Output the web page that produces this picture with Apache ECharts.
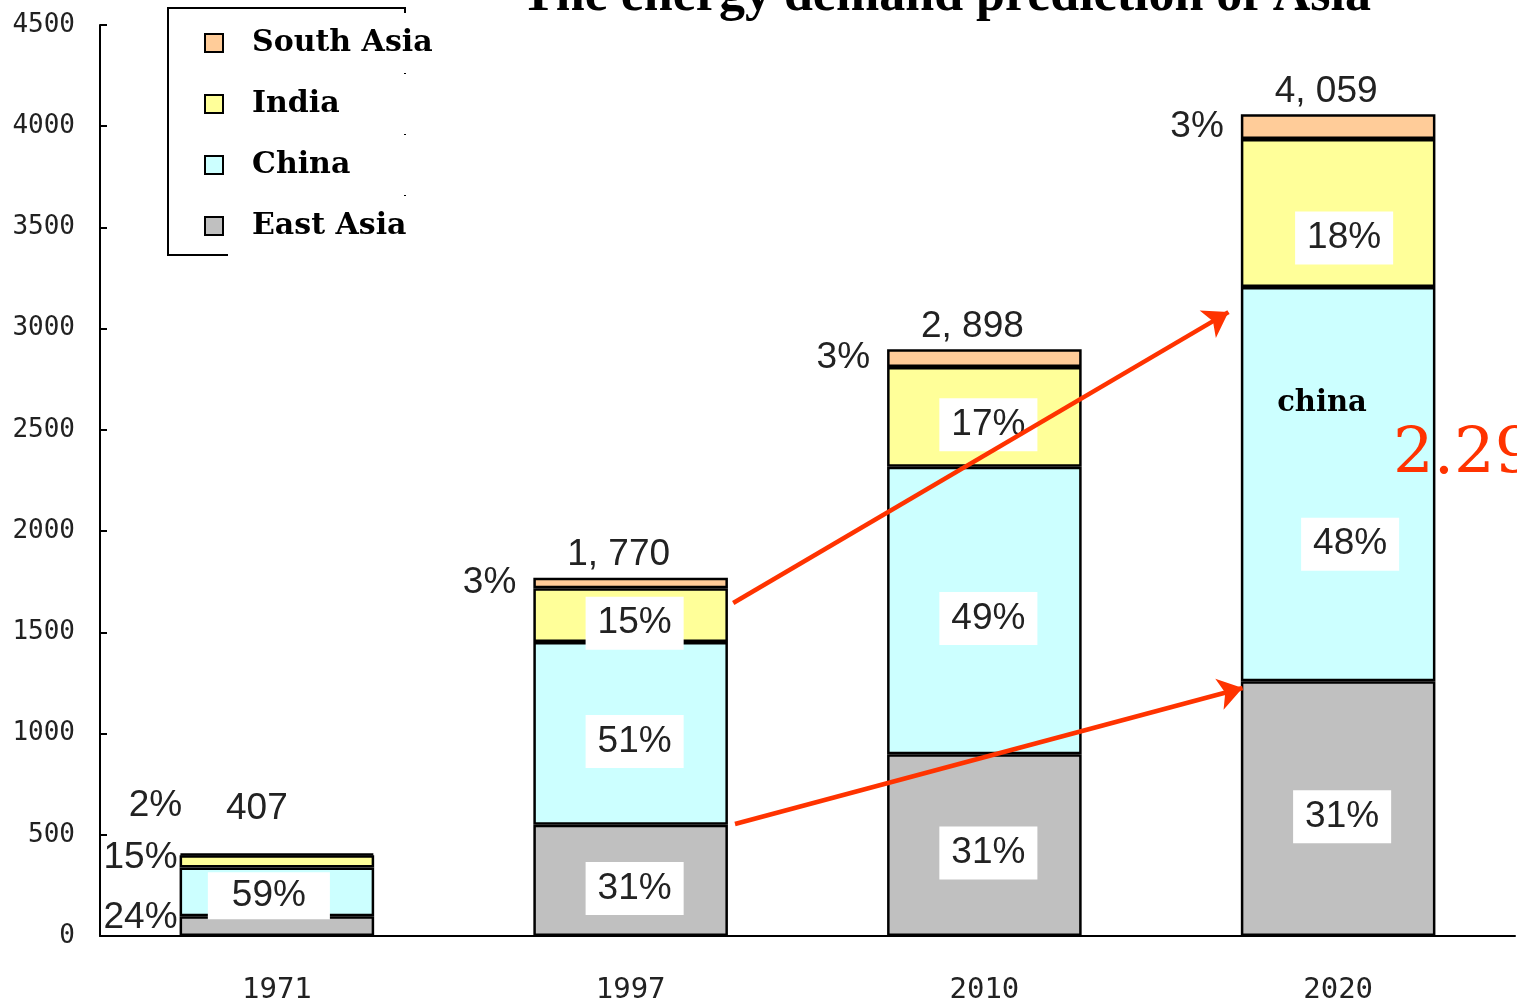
<!DOCTYPE html>
<html>
<head>
<meta charset="utf-8">
<script src="https://cdn.jsdelivr.net/npm/echarts@6/dist/echarts.min.js"></script>
<style>
  html, body { margin: 0; padding: 0; background: #fff; }
  #chart { width: 1517px; height: 1004px; }
</style>
</head>
<body>
<div id="chart"></div>
<script>
// data
var years = ['1971', '1997', '2010', '2020'];
var eastAsia = [98, 549, 898, 1258];
var china = [240, 903, 1420, 1948];
var india = [61, 266, 493, 731];
var southAsia = [8, 52, 87, 122];
var yTicks = { min: 0, max: 4500, step: 500 };
// arrows, in data space (x: 0..4 across the categories)
var arrowFrom = [[1.79, 1645], [1.795, 553]];
var arrowTo = [[3.19, 3082], [3.23, 1225]];

var totals = years.map(function (y, i) {
  return eastAsia[i] + china[i] + india[i] + southAsia[i];
});

function pct(i, v) {
  return Math.round(v / totals[i] * 100) + '%';
}
function withComma(n) {
  return String(n).replace(/\B(?=(\d{3})+(?!\d))/g, ', ');
}

var pctFont = 'Liberation Sans';
var inner = {
  show: true,
  position: 'inside',
  backgroundColor: '#fff',
  padding: [10, 12, 6, 12],
  color: '#222',
  fontFamily: pctFont,
  fontSize: 37,
  offset: [4, 8]
};
var outer = {
  show: true,
  position: 'left',
  distance: 17,
  backgroundColor: 'transparent',
  color: '#222',
  fontFamily: pctFont,
  fontSize: 37
};

function build(values, base, special) {
  return values.map(function (v, i) {
    var lab = Object.assign({}, base, { formatter: pct(i, v) }, special[i] || {});
    return { value: v, label: lab };
  });
}

var barStyle = function (c) {
  return { color: c, borderColor: '#000', borderWidth: 2.5 };
};

var chart = echarts.init(document.getElementById('chart'));
var option = {
  animation: false,
  backgroundColor: '#fff',
  grid: { left: 100, width: 1415, top: 25, bottom: 68, outerBoundsMode: 'none', containLabel: false },
  legend: {
    data: ['South Asia', 'India', 'China', 'East Asia'],
    orient: 'vertical',
    left: 204, top: 13,
    padding: 0,
    z: 10,
    itemWidth: 18, itemHeight: 18, itemGap: 1,
    icon: 'rect',
    itemStyle: { borderColor: '#000', borderWidth: 2 },
    textStyle: {
      fontFamily: 'DejaVu Serif', fontWeight: 'bold', fontSize: 30, color: '#000',
      backgroundColor: '#fff', padding: [13, 8, 13, 24], lineHeight: 34, width: 172
    }
  },
  xAxis: [{
    type: 'category',
    data: years,
    axisLine: { lineStyle: { color: '#000', width: 2 } },
    axisTick: { show: false },
    axisLabel: { fontFamily: 'DejaVu Sans Mono', fontSize: 29, color: '#222', margin: 40 }
  }, {
    type: 'value', min: 0, max: 4, show: false
  }],
  yAxis: {
    type: 'value',
    min: yTicks.min, max: yTicks.max, interval: yTicks.step,
    axisLine: { show: true, lineStyle: { color: '#000', width: 2 } },
    axisTick: { show: true, inside: true, length: 7, lineStyle: { color: '#000', width: 2 } },
    splitLine: { show: false },
    axisLabel: {
      fontFamily: 'DejaVu Sans Mono', fontSize: 26, color: '#222', margin: 25,
      formatter: function (v) { return String(v); }
    }
  },
  graphic: [
    { type: 'rect', z: 1, shape: { x: 168, y: 8, width: 237, height: 247 },
      style: { fill: 'none', stroke: '#000', lineWidth: 2 } },
    { type: 'text', z: 20, x: 946, y: 23,
      style: { text: 'The energy demand prediction of Asia', font: 'bold 52px "Liberation Serif"',
               fill: '#000', textAlign: 'center', textVerticalAlign: 'bottom' } },
    { type: 'text', z: 20, x: 1322, y: 403,
      style: { text: 'china', font: 'bold 29px "DejaVu Serif"', fill: '#000',
               textAlign: 'center', textVerticalAlign: 'middle' } },
    { type: 'text', z: 20, x: 1393, y: 456,
      style: { text: '2.29', font: '64px "DejaVu Serif"', fill: '#ff3300',
               textAlign: 'left', textVerticalAlign: 'middle' } }
  ],
  series: [
    {
      name: 'East Asia', type: 'bar', stack: 'all', barWidth: '55%',
      itemStyle: barStyle('#c0c0c0'),
      data: build(eastAsia, inner, { 0: Object.assign({}, outer, { distance: -10, offset: [0, -8] }) })
    },
    {
      name: 'China', type: 'bar', stack: 'all',
      itemStyle: barStyle('#ccffff'),
      data: build(china, inner, { 0: { padding: [6, 24, 4, 24], offset: [-8, 4] }, 3: { offset: [12, 60] } })
    },
    {
      name: 'India', type: 'bar', stack: 'all',
      itemStyle: barStyle('#ffff99'),
      data: build(india, inner, { 0: Object.assign({}, outer, { distance: -10, offset: [0, -4] }), 3: { offset: [6, 25] } })
    },
    {
      name: 'South Asia', type: 'bar', stack: 'all',
      itemStyle: barStyle('#ffcc99'),
      data: build(southAsia, outer, { 0: { distance: -3, offset: [0, -49] } })
    },
    {
      name: 'total', type: 'scatter', symbolSize: 0, silent: true, z: 5,
      itemStyle: { color: '#000', opacity: 1 },
      data: totals.map(function (t, i) {
        return { value: t, label: { offset: i === 0 ? [-20, -22] : [-12, 0] } };
      }),
      label: {
        show: true, position: 'top', distance: 4, opacity: 1,
        fontFamily: pctFont, fontSize: 37, color: '#222',
        formatter: function (p) { return withComma(p.value); }
      }
    },
    {
      name: 'arrows', type: 'lines', coordinateSystem: 'cartesian2d',
      xAxisIndex: 1, yAxisIndex: 0, z: 8, silent: true,
      symbol: ['none', 'arrow'], symbolSize: 24,
      lineStyle: { color: '#ff3300', width: 4.5, opacity: 1, curveness: 0 },
      data: arrowFrom.map(function (p, i) { return { coords: [p, arrowTo[i]] }; })
    }
  ]
};
chart.setOption(option);
</script>
</body>
</html>
